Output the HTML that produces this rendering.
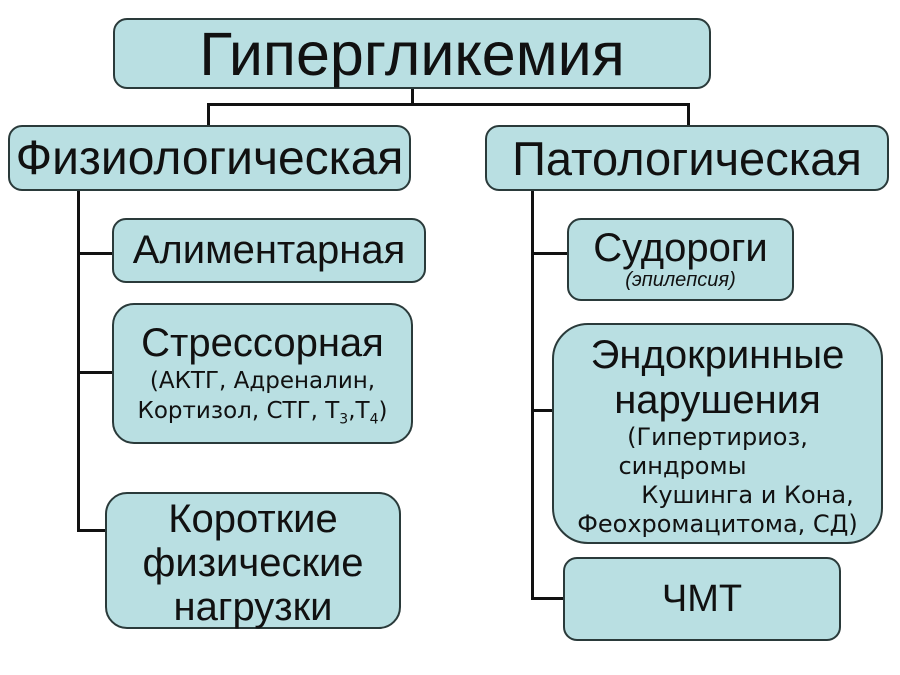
<!DOCTYPE html>
<html><head><meta charset="utf-8"><style>
body{margin:0;width:900px;height:675px;background:#fff;position:relative;overflow:hidden;font-family:"Liberation Sans","DejaVu Sans",sans-serif;}
.b{position:absolute;box-sizing:border-box;background:#b9dfe2;border:2px solid #2a3a3a;border-radius:14px;display:flex;flex-direction:column;align-items:center;justify-content:center;text-align:center;color:#111;white-space:nowrap;}
.l{position:absolute;background:#111;}
.s{font-family:"DejaVu Sans",sans-serif;font-size:23px;line-height:29px;}
</style></head><body>
<div class="l" style="left:411px;top:88px;width:3px;height:17px"></div>
<div class="l" style="left:207px;top:103px;width:483px;height:3px"></div>
<div class="l" style="left:207px;top:103px;width:3px;height:23px"></div>
<div class="l" style="left:687px;top:103px;width:3px;height:23px"></div>
<div class="l" style="left:77px;top:190px;width:3px;height:342px"></div>
<div class="l" style="left:77px;top:252px;width:36px;height:3px"></div>
<div class="l" style="left:77px;top:371px;width:36px;height:3px"></div>
<div class="l" style="left:77px;top:529px;width:30px;height:3px"></div>
<div class="l" style="left:531px;top:190px;width:3px;height:410px"></div>
<div class="l" style="left:531px;top:252px;width:37px;height:3px"></div>
<div class="l" style="left:531px;top:409px;width:22px;height:3px"></div>
<div class="l" style="left:531px;top:597px;width:33px;height:3px"></div>

<div class="b" style="left:113px;top:18px;width:598px;height:71px;font-size:61px">Гипергликемия</div>
<div class="b" style="left:8px;top:125px;width:403px;height:66px;font-size:48px">Физиологическая</div>
<div class="b" style="left:485px;top:125px;width:404px;height:66px;font-size:47px">Патологическая</div>
<div class="b" style="left:112px;top:218px;width:314px;height:65px;font-size:40px">Алиментарная</div>
<div class="b" style="left:112px;top:303px;width:301px;height:141px;font-size:40px;border-radius:22px;padding-top:8px"><div style="line-height:46px">Стрессорная</div><div class="s" style="line-height:30px">(АКТГ, Адреналин,<br>Кортизол, СТГ, Т<sub style="font-size:14px">3</sub>,Т<sub style="font-size:14px">4</sub>)</div></div>
<div class="b" style="left:105px;top:492px;width:296px;height:137px;font-size:40px;line-height:44px;border-radius:22px;padding-top:4px">Короткие<br>физические<br>нагрузки</div>
<div class="b" style="left:567px;top:218px;width:227px;height:83px;font-size:40px"><div style="line-height:42px">Судороги</div><div style="font-size:20px;font-style:italic">(эпилепсия)</div></div>
<div class="b" style="left:552px;top:323px;width:331px;height:221px;font-size:40px;border-radius:36px;padding-top:4px"><div style="line-height:45px">Эндокринные<br>нарушения</div><div class="s" style="font-size:24px;line-height:29px">(Гипертириоз,<br><span style="margin-right:70px">синдромы</span><br><span style="margin-left:60px">Кушинга и Кона,</span><br>Феохромацитома, СД)</div></div>
<div class="b" style="left:563px;top:557px;width:278px;height:84px;font-size:38px">ЧМТ</div>
</body></html>
